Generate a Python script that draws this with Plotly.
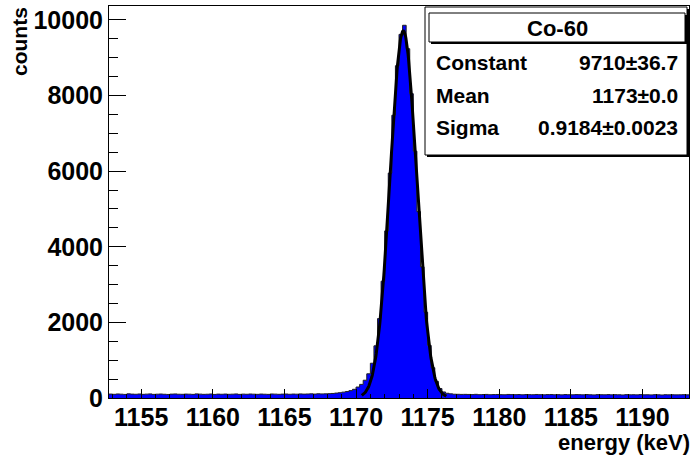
import plotly.graph_objects as go
import math

# ---------------- data ----------------
bin_lo = 1152.75
bin_width = 0.25
counts = [
    104, 98, 107, 101, 95, 110, 103, 99, 106, 97, 102, 108, 96, 101, 105, 99, 94, 103, 107, 100,
    98, 104, 101, 96, 109, 102, 97, 100, 106, 95, 103, 99, 104, 98, 101, 107, 96, 102, 99, 105,
    101, 97, 104, 100, 96, 106, 102, 98, 103, 105, 99, 104, 101, 108, 103, 106, 110, 104, 112, 108,
    110, 115, 120, 130, 140, 155, 170, 195, 230, 290, 360, 470, 640, 920, 1380, 2100, 3090, 4420,
    5950, 7480, 8790, 9620, 9860, 9240, 8050, 6530, 4930, 3470, 2270, 1390, 800, 440, 250, 160,
    125, 110, 100, 98, 95, 96,
    94, 90, 97, 88, 92, 95, 87, 91, 93, 89, 86, 94, 90, 88, 92, 85, 91, 89, 87, 93,
    88, 84, 90, 92, 86, 89, 83, 91, 87, 85, 90, 88, 84, 92, 86, 82, 89, 87, 85, 90,
    84, 88, 86, 81, 89, 85, 87, 83, 90, 84, 86, 82, 88, 85, 80, 87, 84, 86, 83, 85, 88, 84,
]
fit_constant = 9710
fit_mean = 1173.3
fit_sigma = 0.9184
fit_range = [1170.4, 1176.3]
stats_title = "Co-60"
stats_labels = ["Constant", "Mean", "Sigma"]
stats_values = ["9710\u00b136.7", "1173\u00b10.0", "0.9184\u00b10.0023"]
x_title = "energy (keV)"
y_title = "counts"

# ---------------- figure ----------------
edges = [bin_lo + bin_width * i for i in range(len(counts) + 1)]
step_y = counts + [counts[-1]]

n_fit = 200
fx = [fit_range[0] + (fit_range[1] - fit_range[0]) * i / (n_fit - 1) for i in range(n_fit)]
fy = [fit_constant * math.exp(-0.5 * ((x - fit_mean) / fit_sigma) ** 2) for x in fx]

W, H = 693, 455
L, R, T, B = 109, 689, 6, 398
FONT = "Liberation Sans, Arial, Helvetica, sans-serif"


def px(x):
    return (x - L) / (R - L)


def py(y):
    return (B - y) / (B - T)


fig = go.Figure()
fig.add_trace(go.Scatter(
    x=edges, y=step_y, mode="lines", line=dict(shape="hv", color="#222222", width=1),
    fill="tozeroy", fillcolor="#0000ff", hoverinfo="skip", showlegend=False,
))
fig.add_trace(go.Scatter(
    x=fx, y=fy, mode="lines", line=dict(color="black", width=3),
    hoverinfo="skip", showlegend=False,
))

shapes = []
shapes.append(dict(type="rect", xref="paper", yref="paper",
                   x0=px(427), x1=px(689), y0=py(9), y1=py(157),
                   fillcolor="black", line=dict(width=0), layer="above"))
shapes.append(dict(type="rect", xref="paper", yref="paper",
                   x0=px(425), x1=px(687), y0=py(7), y1=py(155),
                   fillcolor="white", line=dict(color="black", width=1), layer="above"))
shapes.append(dict(type="rect", xref="paper", yref="paper",
                   x0=px(431), x1=px(687), y0=py(15), y1=py(44),
                   fillcolor="black", line=dict(width=0), layer="above"))
shapes.append(dict(type="rect", xref="paper", yref="paper",
                   x0=px(429), x1=px(685), y0=py(13), y1=py(42),
                   fillcolor="white", line=dict(color="black", width=1), layer="above"))

annotations = []
annotations.append(dict(xref="paper", yref="paper", x=px(557), y=py(28), text=stats_title,
                        showarrow=False, xanchor="center", yanchor="middle",
                        font=dict(family=FONT, size=22, color="black", weight="bold")))
rows_y = [62, 95, 128]
for lab, val, yy in zip(stats_labels, stats_values, rows_y):
    annotations.append(dict(xref="paper", yref="paper", x=px(434), y=py(yy), text=lab,
                            showarrow=False, xanchor="left", yanchor="middle",
                            font=dict(family=FONT, size=21, color="black", weight="bold")))
    annotations.append(dict(xref="paper", yref="paper", x=px(680), y=py(yy), text=val,
                            showarrow=False, xanchor="right", yanchor="middle",
                            font=dict(family=FONT, size=21, color="black", weight="bold")))
annotations.append(dict(xref="paper", yref="paper", x=px(692), y=py(428), text=x_title,
                        showarrow=False, xanchor="right", yanchor="top",
                        font=dict(family=FONT, size=22, color="black", weight="bold")))
annotations.append(dict(xref="paper", yref="paper", x=px(6), y=py(5), text=y_title,
                        showarrow=False, xanchor="left", yanchor="top", textangle=-90,
                        font=dict(family=FONT, size=21, color="black", weight="bold")))

fig.update_layout(
    width=W, height=H,
    margin=dict(l=L, r=W - R, t=T, b=H - B),
    paper_bgcolor="white", plot_bgcolor="white",
    shapes=shapes, annotations=annotations,
    showlegend=False,
    xaxis=dict(
        range=[edges[0], edges[-1]], showgrid=False, zeroline=False,
        showline=True, linecolor="black", linewidth=1, mirror=True,
        ticks="inside", ticklen=9, tickcolor="black", tickwidth=1,
        dtick=5, tick0=1150, ticklabelstandoff=-3,
        minor=dict(ticks="inside", ticklen=4, dtick=1, tickcolor="black", showgrid=False),
        tickfont=dict(family=FONT, size=25, color="black", weight="bold"),
    ),
    yaxis=dict(
        range=[0, 10370], showgrid=False, zeroline=False,
        showline=True, linecolor="black", linewidth=1, mirror=True,
        ticks="inside", ticklen=17, tickcolor="black", tickwidth=1,
        dtick=2000, tick0=0, tickformat="d",
        minor=dict(ticks="inside", ticklen=9, dtick=500, tickcolor="black", showgrid=False),
        tickfont=dict(family=FONT, size=25, color="black", weight="bold"),
    ),
)

fig.write_html("out.html")
